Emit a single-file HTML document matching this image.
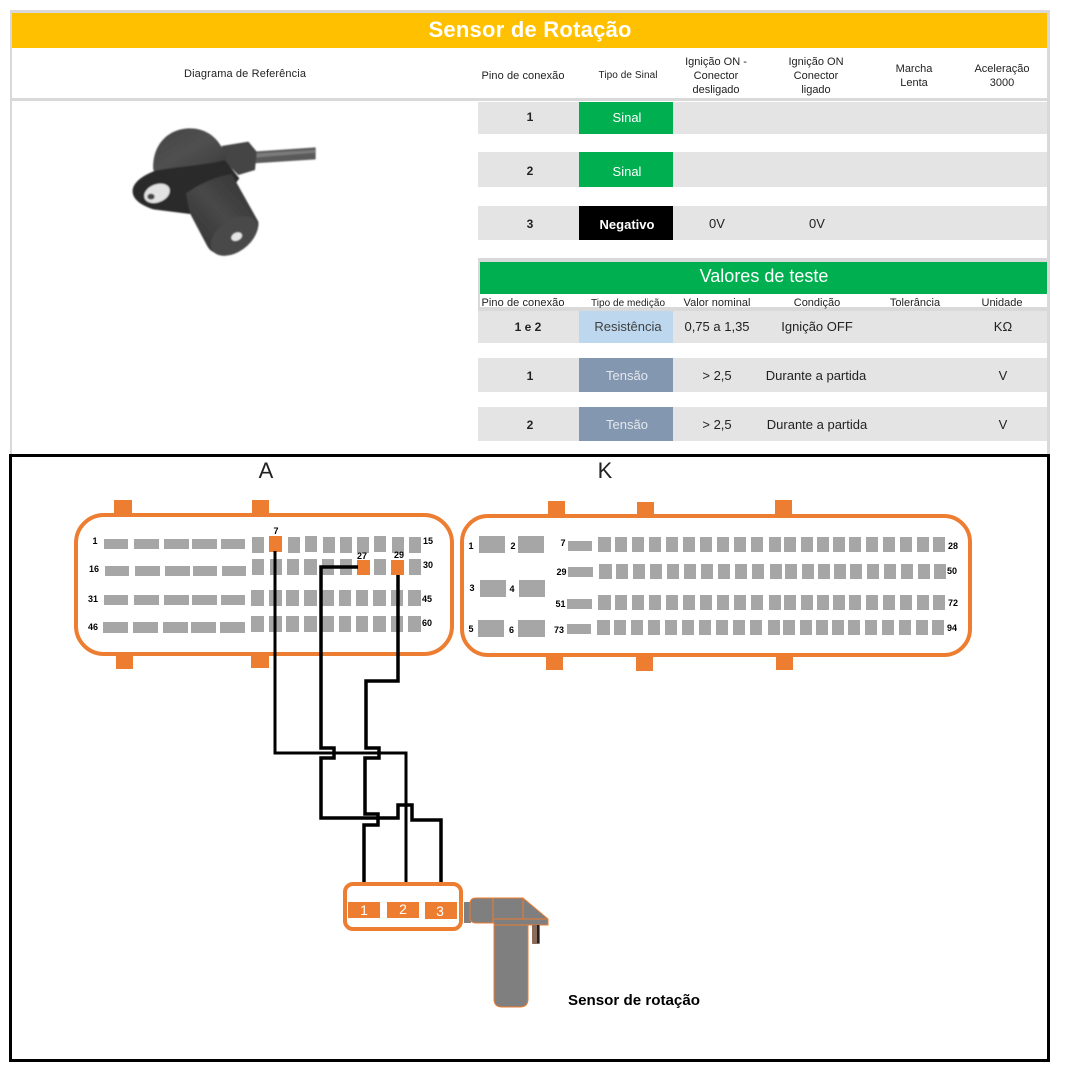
<!DOCTYPE html>
<html lang="pt"><head><meta charset="utf-8"><title>Sensor de Rotação</title>
<style>
html,body{margin:0;padding:0;background:#fff}
svg{display:block}
text{font-family:"Liberation Sans",sans-serif;fill:#222;text-anchor:middle}
.h{font-size:11px}
.r{font-size:13px}
.b{font-weight:bold}
.p{font-size:9px;font-weight:bold;fill:#000}
</style></head><body>
<svg xmlns="http://www.w3.org/2000/svg" width="1065" height="1077" viewBox="0 0 1065 1077">
<defs>
<g id="kr" fill="#a6a6a6"><path d="M598 0h13v15h-13zM615 0h12v15h-12zM632 0h12v15h-12zM649 0h12v15h-12zM666 0h12v15h-12zM683 0h12v15h-12zM700 0h12v15h-12zM717 0h12v15h-12zM734 0h12v15h-12zM751 0h12v15h-12zM769 0h12v15h-12zM784 0h12v15h-12zM801 0h12v15h-12zM817 0h12v15h-12zM833 0h12v15h-12zM849 0h12v15h-12zM866 0h12v15h-12zM883 0h12v15h-12zM900 0h12v15h-12zM917 0h12v15h-12zM933 0h12v15h-12z"/></g>
<g id="ar" fill="#a6a6a6"><path d="M251 0h13v16h-13zM269 0h13v16h-13zM286 0h13v16h-13zM304 0h13v16h-13zM321 0h13v16h-13zM339 0h12v16h-12zM356 0h12v16h-12zM373 0h13v16h-13zM391 0h12v16h-12zM408 0h13v16h-13z"/></g>
<filter id="soft" x="-5%" y="-5%" width="110%" height="110%"><feGaussianBlur stdDeviation="2.500"/></filter>
<linearGradient id="cyl" x1="0" y1="1" x2="1" y2="0"><stop offset="0" stop-color="#2f2f2f"/><stop offset=".5" stop-color="#484848"/><stop offset="1" stop-color="#303030"/></linearGradient>
<linearGradient id="dome" x1="0" y1="0" x2="1" y2="1"><stop offset="0" stop-color="#444"/><stop offset=".5" stop-color="#505050"/><stop offset="1" stop-color="#3a3a3a"/></linearGradient>
</defs>
<rect width="1065" height="1077" fill="#fff"/>

<!-- top frame -->
<rect x="10" y="10" width="1040" height="446" fill="#d9d9d9"/>
<rect x="12" y="48" width="1035" height="50" fill="#fff"/>
<rect x="12" y="101" width="1035" height="353" fill="#fff"/>
<rect x="12" y="13" width="1035" height="35" fill="#ffc000"/>
<text x="530" y="37" font-size="22" font-weight="bold" textLength="203" lengthAdjust="spacing" style="fill:#fff">Sensor de Rotação</text>

<!-- header -->
<text x="245" y="77" class="h" textLength="122">Diagrama de Referência</text>
<text x="523" y="79" class="h" textLength="83">Pino de conexão</text>
<text x="628" y="78" font-size="10" textLength="59">Tipo de Sinal</text>
<text x="716" y="65" class="h">Ignição ON -</text><text x="716" y="79" class="h">Conector</text><text x="716" y="93" class="h">desligado</text>
<text x="816" y="65" class="h">Ignição ON</text><text x="816" y="79" class="h">Conector</text><text x="816" y="93" class="h">ligado</text>
<text x="914" y="72" class="h">Marcha</text><text x="914" y="86" class="h">Lenta</text>
<text x="1002" y="72" class="h">Aceleração</text><text x="1002" y="86" class="h">3000</text>

<!-- rows -->
<g fill="#e4e4e4">
<rect x="478" y="102" width="569" height="32"/>
<rect x="478" y="152" width="569" height="35"/>
<rect x="478" y="206" width="569" height="34"/>
<rect x="478" y="311" width="569" height="32"/>
<rect x="478" y="358" width="569" height="34"/>
<rect x="478" y="407" width="569" height="34"/>
</g>
<rect x="579" y="102" width="94" height="32" fill="#00b050"/>
<rect x="579" y="152" width="94" height="35" fill="#00b050"/>
<rect x="579" y="206" width="94" height="34" fill="#000"/>
<rect x="579" y="311" width="94" height="32" fill="#bdd7ee"/>
<rect x="579" y="358" width="94" height="34" fill="#8497b0"/>
<rect x="579" y="407" width="94" height="34" fill="#8497b0"/>

<text x="530" y="121" style="font-size:12px;font-weight:bold">1</text>
<text x="627" y="122" class="r" style="fill:#fff">Sinal</text>
<text x="530" y="175" style="font-size:12px;font-weight:bold">2</text>
<text x="627" y="176" class="r" style="fill:#fff">Sinal</text>
<text x="530" y="228" style="font-size:12px;font-weight:bold">3</text>
<text x="627" y="229" class="r b" style="fill:#fff">Negativo</text>
<text x="717" y="228" class="r">0V</text>
<text x="817" y="228" class="r">0V</text>

<!-- valores de teste -->
<rect x="478" y="258" width="569" height="36" fill="#d9d9d9"/>
<rect x="480" y="262" width="567" height="32" fill="#00b050"/>
<text x="764" y="282" font-size="18" style="fill:#fff">Valores de teste</text>
<rect x="478" y="294" width="2" height="14" fill="#d9d9d9"/>
<rect x="478" y="307" width="569" height="4" fill="#d9d9d9"/>
<text x="523" y="306" class="h" textLength="83">Pino de conexão</text>
<text x="628" y="306" font-size="10" textLength="74">Tipo de medição</text>
<text x="717" y="306" class="h" textLength="67">Valor nominal</text>
<text x="817" y="306" class="h">Condição</text>
<text x="915" y="306" class="h">Tolerância</text>
<text x="1002" y="306" class="h">Unidade</text>

<text x="528" y="331" style="font-size:12px;font-weight:bold">1 e 2</text>
<text x="628" y="331" class="r" style="fill:#404040">Resistência</text>
<text x="717" y="331" class="r">0,75 a 1,35</text>
<text x="817" y="331" class="r">Ignição OFF</text>
<text x="1003" y="331" class="r">KΩ</text>

<text x="530" y="380" style="font-size:12px;font-weight:bold">1</text>
<text x="627" y="380" class="r" style="fill:#e4e8ee">Tensão</text>
<text x="717" y="380" class="r">&gt; 2,5</text>
<text x="816" y="380" class="r">Durante a partida</text>
<text x="1003" y="380" class="r">V</text>

<text x="530" y="429" style="font-size:12px;font-weight:bold">2</text>
<text x="627" y="429" class="r" style="fill:#e4e8ee">Tensão</text>
<text x="717" y="429" class="r">&gt; 2,5</text>
<text x="817" y="429" class="r">Durante a partida</text>
<text x="1003" y="429" class="r">V</text>

<!-- photo -->
<g transform="translate(110 110) scale(.33333)">
<g filter="url(#soft)">
<path d="M430 125 L617 112 V148 L430 160Z" fill="#5a5a5a"/>
<path d="M440 130 L617 120 V128 L440 142Z" fill="#7c7c7c"/>
<path d="M335 108 L415 95 L440 125 L435 180 L385 195 L340 150Z" fill="#454545"/>
<path d="M130 180 C125 110 170 55 240 55 C295 55 335 90 350 150 C290 170 200 170 135 185Z" fill="url(#dome)"/>
<path d="M68 240 C72 212 105 195 135 182 C200 170 290 165 345 150 L388 205 L370 230 L240 312 L130 298 C90 285 65 265 68 240Z" fill="#2a2a2a"/>
<path d="M228 250 C270 220 320 200 365 192 L445 335 C450 380 400 432 340 432 C315 432 300 425 290 405 L240 310Z" fill="url(#cyl)"/>
<ellipse cx="372" cy="378" rx="78" ry="48" transform="rotate(-35 372 378)" fill="#4a4a4a"/>
<ellipse cx="380" cy="380" rx="17" ry="12" transform="rotate(-25 380 380)" fill="#e4e4e4"/>
<ellipse cx="141" cy="250" rx="40" ry="27" transform="rotate(-22 141 250)" fill="#e2e2e2"/>
<ellipse cx="123" cy="260" rx="11" ry="9" fill="#444"/>
</g>
</g>

<!-- bottom frame -->
<rect x="10.500" y="455.500" width="1038" height="605" fill="#fff" stroke="#000" stroke-width="3"/>
<text x="266" y="478" font-size="22">A</text>
<text x="605" y="478" font-size="22">K</text>

<!-- connector A -->
<g fill="#ed7d31">
<rect x="114" y="500" width="18" height="15"/><rect x="252" y="500" width="17" height="15"/>
<rect x="116" y="654" width="17" height="15"/><rect x="251" y="652" width="18" height="16"/>
</g>
<rect x="76" y="515" width="376" height="139" rx="28" fill="#fff" stroke="#ed7d31" stroke-width="4"/>
<g fill="#a6a6a6">
<path d="M104 539h24v10h-24zM134 539h25v10h-25zM164 539h25v10h-25zM192 539h25v10h-25zM221 539h24v10h-24z"/>
<path d="M105 566h24v10h-24zM135 566h25v10h-25zM165 566h25v10h-25zM193 566h24v10h-24zM222 566h24v10h-24z"/>
<path d="M104 595h24v10h-24zM134 595h25v10h-25zM164 595h25v10h-25zM192 595h25v10h-25zM221 595h24v10h-24z"/>
<path d="M103 622h25v11h-25zM133 622h25v11h-25zM163 622h25v11h-25zM191 622h25v11h-25zM220 622h25v11h-25z"/>
<path d="M252 537h12v16h-12zM288 537h12v16h-12zM305 536h12v16h-12zM323 537h12v16h-12zM340 537h12v16h-12zM357 537h12v16h-12zM374 536h12v16h-12zM392 537h12v16h-12zM409 537h12v16h-12z"/>
<path d="M252 559h12v16h-12zM270 559h12v16h-12zM287 559h12v16h-12zM304 559h13v16h-13zM322 559h12v16h-12zM340 559h12v16h-12zM374 559h12v16h-12zM409 559h12v16h-12z"/>
</g>
<use href="#ar" y="590"/><use href="#ar" y="616"/>
<g fill="#ed7d31">
<rect x="269" y="536" width="13" height="16"/>
<rect x="357" y="560" width="13" height="15"/>
<rect x="391" y="560" width="13" height="15"/>
</g>
<text class="p" x="95" y="544">1</text><text class="p" x="94" y="572">16</text><text class="p" x="93" y="602">31</text><text class="p" x="93" y="630">46</text>
<text class="p" x="428" y="544">15</text><text class="p" x="428" y="568">30</text><text class="p" x="427" y="602">45</text><text class="p" x="427" y="626">60</text>
<text class="p" x="276" y="534">7</text><text class="p" x="362" y="559">27</text><text class="p" x="399" y="558">29</text>

<!-- connector K -->
<g fill="#ed7d31">
<rect x="548" y="501" width="17" height="15"/><rect x="637" y="502" width="17" height="14"/><rect x="775" y="500" width="17" height="16"/>
<rect x="546" y="655" width="17" height="15"/><rect x="636" y="655" width="17" height="16"/><rect x="776" y="655" width="17" height="15"/>
</g>
<rect x="462" y="516" width="508" height="139" rx="26" fill="#fff" stroke="#ed7d31" stroke-width="4"/>
<g fill="#a6a6a6">
<rect x="479" y="536" width="26" height="17"/><rect x="518" y="536" width="26" height="17"/>
<rect x="480" y="580" width="26" height="17"/><rect x="519" y="580" width="26" height="17"/>
<rect x="478" y="620" width="26" height="17"/><rect x="518" y="620" width="27" height="17"/>
<rect x="568" y="541" width="24" height="10"/><rect x="568" y="567" width="25" height="10"/>
<rect x="567" y="599" width="25" height="10"/><rect x="567" y="624" width="24" height="10"/>
</g>
<use href="#kr" y="537"/><use href="#kr" x="1" y="564"/><use href="#kr" y="595"/><use href="#kr" x="-1" y="620"/>
<text class="p" x="471" y="549">1</text><text class="p" x="513" y="549">2</text>
<text class="p" x="472" y="591">3</text><text class="p" x="512" y="592">4</text>
<text class="p" x="471" y="632">5</text><text class="p" x="511.500" y="633">6</text>
<text class="p" x="563" y="546">7</text><text class="p" x="561.500" y="575">29</text><text class="p" x="560.500" y="607">51</text><text class="p" x="559" y="633">73</text>
<text class="p" x="953" y="549">28</text><text class="p" x="952" y="574">50</text><text class="p" x="953" y="606">72</text><text class="p" x="952" y="631">94</text>

<!-- wires -->
<g fill="none" stroke="#000" stroke-linejoin="miter">
<path stroke-width="3" d="M275 551V753H406V883"/>
<path stroke-width="3.500" d="M358 567H321V748H334V758H321V818H398V805H412V820H441V883"/>
<path stroke-width="3.500" d="M398 575V681H366V748H379V758H365V814H378V825H364V883"/>
</g>

<!-- sensor connector -->
<path d="M464 902H471V923H464Z" fill="#7f7f7f"/>
<path d="M476 898H523L548 919V925H528V999Q528 1007 520 1007H502Q494 1007 494 999V923H476Q470 923 470 917V904Q470 898 476 898Z" fill="#7f7f7f" stroke="#ed7d31" stroke-width="1"/>
<path d="M493 898V923M523 898V919M494 919H548M494 925H548" fill="none" stroke="#ed7d31" stroke-width="1"/>
<rect x="532" y="925" width="8" height="19" rx="1" fill="#8a6a58"/>
<rect x="537" y="925" width="2" height="18" fill="#222"/>
<rect x="345" y="884" width="116" height="45" rx="8" fill="#fff" stroke="#ed7d31" stroke-width="4"/>
<g fill="#ed7d31">
<rect x="348" y="902" width="32" height="16"/><rect x="387" y="902" width="32" height="16"/><rect x="425" y="902" width="32" height="17"/>
</g>
<text x="364" y="915" font-size="14" style="fill:#fff">1</text>
<text x="403" y="914" font-size="14" style="fill:#fff">2</text>
<text x="440" y="916" font-size="14" style="fill:#fff">3</text>
<text x="634" y="1005" font-size="15" font-weight="bold" textLength="132" lengthAdjust="spacingAndGlyphs" style="fill:#000">Sensor de rotação</text>
</svg>
</body></html>
